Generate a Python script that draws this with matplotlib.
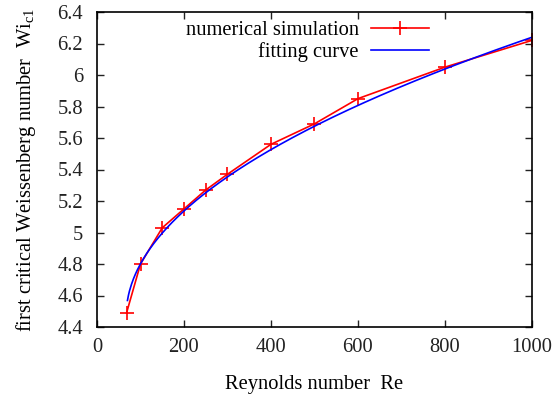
import numpy as np
import matplotlib
matplotlib.use("Agg")
import matplotlib.pyplot as plt
from matplotlib.ticker import FuncFormatter, MultipleLocator

plt.rcParams['font.family'] = ['Liberation Serif', 'DejaVu Serif']
plt.rcParams['mathtext.fontset'] = 'custom'
plt.rcParams['mathtext.rm'] = 'Liberation Serif'
plt.rcParams['mathtext.it'] = 'Liberation Serif'

# numerical simulation
re_sim = [68, 100, 150, 200, 250, 300, 400, 500, 600, 800, 1000]
wi_sim = [4.49, 4.80, 5.03, 5.15, 5.27, 5.37, 5.56, 5.69, 5.85, 6.05, 6.22]

# fitting curve parameters: Wi = a + b * (Re - c)^p
fit_a = 4.468
fit_b = 0.058
fit_c = 67.0
fit_p = 0.5
fit_re_min = 70
fit_re_max = 1000

FS = 14.8

fig = plt.figure(figsize=(5.54, 3.98), dpi=100)
ax = fig.add_axes([97/554, 1-327/398, (532-97)/554, (327-12)/398])

ax.plot(re_sim, wi_sim, color='#ff0000', lw=1.2, marker='+', ms=10, mew=1.2,
        label='numerical simulation')
re_fit = np.linspace(fit_re_min, fit_re_max, 400)
wi_fit = fit_a + fit_b * (re_fit - fit_c) ** fit_p
ax.plot(re_fit, wi_fit, color='#0000ff', lw=1.2, label='fitting curve')

ax.set_xlim(0, 1000)
ax.set_ylim(4.4, 6.4)
ax.xaxis.set_major_locator(MultipleLocator(200))
ax.yaxis.set_major_locator(MultipleLocator(0.2))
ax.yaxis.set_major_formatter(FuncFormatter(lambda v, p: '%g' % round(v, 2)))
ax.tick_params(direction='in', top=True, right=True, length=5, width=1,
               labelsize=FS, colors='#222222')
ax.tick_params(axis='x', pad=8)
ax.tick_params(axis='y', pad=10)
for s in ax.spines.values():
    s.set_linewidth(1.2)

ax.set_xlabel('Reynolds number  Re', fontsize=FS, labelpad=13)
ax.set_ylabel('first critical Weissenberg number  Wi$_{\\mathrm{c1}}$', fontsize=FS, labelpad=14)

leg = ax.legend(loc='upper right', bbox_to_anchor=(0.80, 1.025), frameon=False,
                markerfirst=False, fontsize=FS, handlelength=2.8, handletextpad=0.6,
                labelspacing=0.1, borderpad=0.3)
for t in leg.get_texts():
    t.set_ha('right')
leg._legend_box.align = 'right'

fig.savefig('out.png', dpi=100)
